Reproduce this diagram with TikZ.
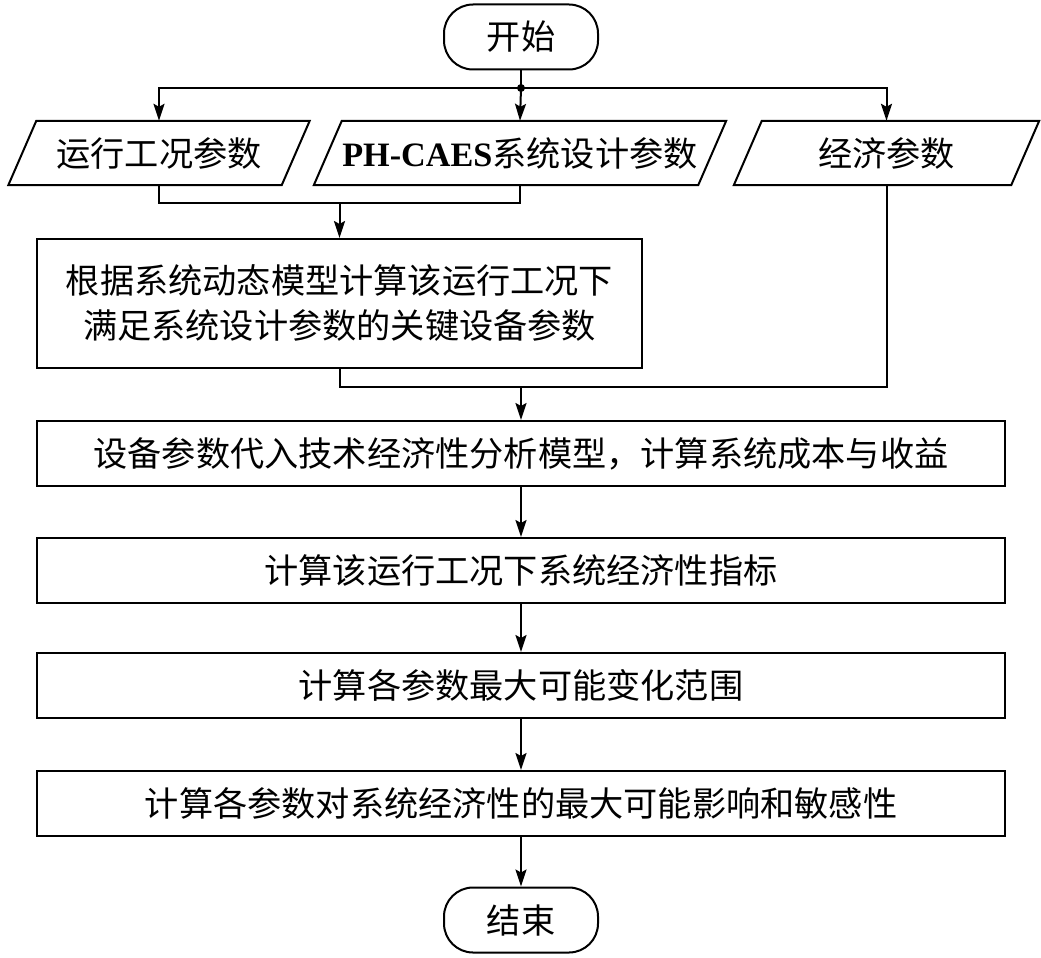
\documentclass[tikz,border=0pt]{standalone}
\usepackage{fontspec}
\setmainfont{Liberation Serif}
\newfontfamily\cjk{Noto Sans CJK SC}
\usetikzlibrary{arrows.meta}
\begin{document}
\begin{tikzpicture}[x=1pt,y=-1pt,
  every node/.style={font=\cjk\fontsize{34.2pt}{45pt}\selectfont, inner sep=0pt, align=center},
  procbox/.style={draw, line width=2pt, minimum height=65pt},
  termbox/.style={draw, line width=2pt, rounded corners=29pt, minimum width=154pt, minimum height=65pt},
  paratext/.style={draw=none, minimum height=64pt},
  conn/.style={line width=2pt},
  arr/.style={line width=2pt, -{Stealth[length=17pt,width=11pt,inset=3pt]}}
]
\useasboundingbox (0,0) rectangle (1041,958);

% nodes
\node[termbox] (start) at (521,37) {开始};
\node[paratext, minimum width=273pt] (p1) at (159,153) {运行工况参数};
\node[paratext, minimum width=384pt] (p2) at (520,153) {{\rmfamily\bfseries PH-CAES}系统设计参数};
\node[paratext, minimum width=277pt] (p3) at (886.5,153) {经济参数};
\node[procbox, minimum width=605pt, minimum height=129pt] (b1) at (339.5,303.5) {根据系统动态模型计算该运行工况下\\满足系统设计参数的关键设备参数};
\node[procbox, minimum width=968pt] (b2) at (521,453.5) {设备参数代入技术经济性分析模型，计算系统成本与收益};
\node[procbox, minimum width=968pt] (b3) at (521,570.5) {计算该运行工况下系统经济性指标};
\node[procbox, minimum width=968pt] (b4) at (521,685.5) {计算各参数最大可能变化范围};
\node[procbox, minimum width=968pt] (b5) at (521,803.5) {计算各参数对系统经济性的最大可能影响和敏感性};
\node[termbox] (end) at (521,920) {结束};

% parallelogram outlines
\foreach \p in {p1,p2,p3}{
  \draw[conn, line join=miter] ([xshift=14pt]\p.north west) -- ([xshift=14pt]\p.north east)
     -- ([xshift=-14pt]\p.south east) -- ([xshift=-14pt]\p.south west) -- cycle;
}

% connectors
\coordinate (j) at (521,88);
\coordinate (m1) at (339.5,203);
\coordinate (m2) at (521,387);
\draw[conn] (start.south) -- (j);
\fill (j) circle (4pt);
\draw[arr] (j) -- (p2.north);
\draw[arr] (j) -| (p1.north);
\draw[arr] (j) -| (p3.north);
\draw[conn] (p1.south) |- (m1);
\draw[conn] (p2.south) |- (m1);
\draw[arr] (m1) -- (b1.north);
\draw[conn] (b1.south) |- (m2);
\draw[conn] (p3.south) |- (m2);
\draw[arr] (m2) -- (b2.north);
\draw[arr] (b2.south) -- (b3.north);
\draw[arr] (b3.south) -- (b4.north);
\draw[arr] (b4.south) -- (b5.north);
\draw[arr] (b5.south) -- (end.north);
\end{tikzpicture}
\end{document}
